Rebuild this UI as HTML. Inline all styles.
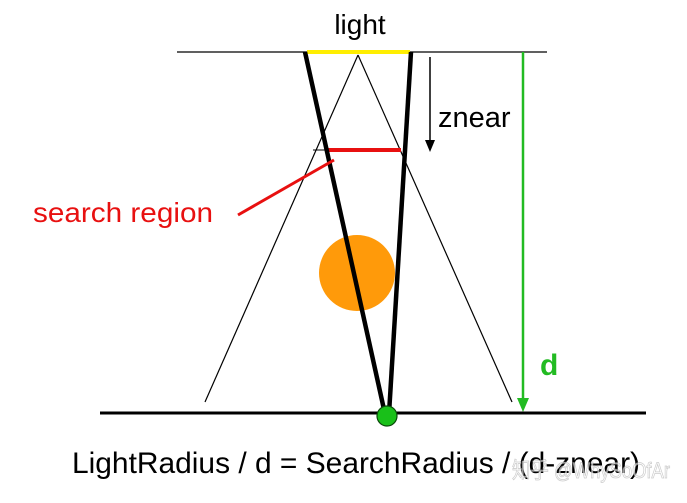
<!DOCTYPE html>
<html><head><meta charset="utf-8"><style>
html,body{margin:0;padding:0;background:#fff;}
svg{display:block;}
</style></head><body>
<svg width="687" height="503" viewBox="0 0 687 503" font-family="'Liberation Sans', 'Noto Sans CJK SC', sans-serif">
<text x="360" y="34" font-size="28" text-anchor="middle">light</text>
<line x1="177" y1="52" x2="547" y2="52" stroke="#000" stroke-width="1.2"/>
<line x1="307" y1="52" x2="410" y2="52" stroke="#ffee00" stroke-width="4"/>
<line x1="358" y1="55" x2="205" y2="402" stroke="#000" stroke-width="1.2"/>
<line x1="358" y1="55" x2="512" y2="402" stroke="#000" stroke-width="1.2"/>
<line x1="313" y1="150" x2="400" y2="150" stroke="#000" stroke-width="1"/>
<line x1="328" y1="150" x2="401" y2="150" stroke="#e81010" stroke-width="4"/>
<circle cx="357" cy="273" r="38" fill="#ff9a0a"/>
<line x1="305" y1="52" x2="385" y2="414" stroke="#000" stroke-width="4.5"/>
<line x1="411" y1="52" x2="389" y2="414" stroke="#000" stroke-width="4.5"/>
<line x1="238" y1="215" x2="334" y2="160" stroke="#e81010" stroke-width="3"/>
<text x="33" y="222" font-size="28" fill="#e81010" textLength="180" lengthAdjust="spacingAndGlyphs">search region</text>
<g>
<line x1="430" y1="57" x2="430" y2="142" stroke="#000" stroke-width="1.5"/>
<polygon points="425,140 435,140 430,152" fill="#000"/>
</g>
<text x="438" y="127" font-size="29">znear</text>
<g>
<line x1="523" y1="52" x2="523" y2="400" stroke="#22bb22" stroke-width="2.5"/>
<polygon points="517,398 529,398 523,412" fill="#22bb22"/>
</g>
<text x="540" y="375" font-size="30" font-weight="bold" fill="#22bb22">d</text>
<line x1="100" y1="413" x2="646" y2="413" stroke="#000" stroke-width="3"/>
<circle cx="387" cy="416" r="10" fill="#19c019" stroke="#0a4a0a" stroke-width="1.2"/>
<text x="72" y="473" font-size="29.5" textLength="568" lengthAdjust="spacingAndGlyphs">LightRadius / d = SearchRadius / (d-znear)</text>
<text x="512" y="478" font-size="22" fill="#ffffff" fill-opacity="0.6" stroke="#999" stroke-opacity="0.5" stroke-width="0.8" textLength="158" lengthAdjust="spacingAndGlyphs">知乎 @WhySoOfAr</text>
</svg>
</body></html>
